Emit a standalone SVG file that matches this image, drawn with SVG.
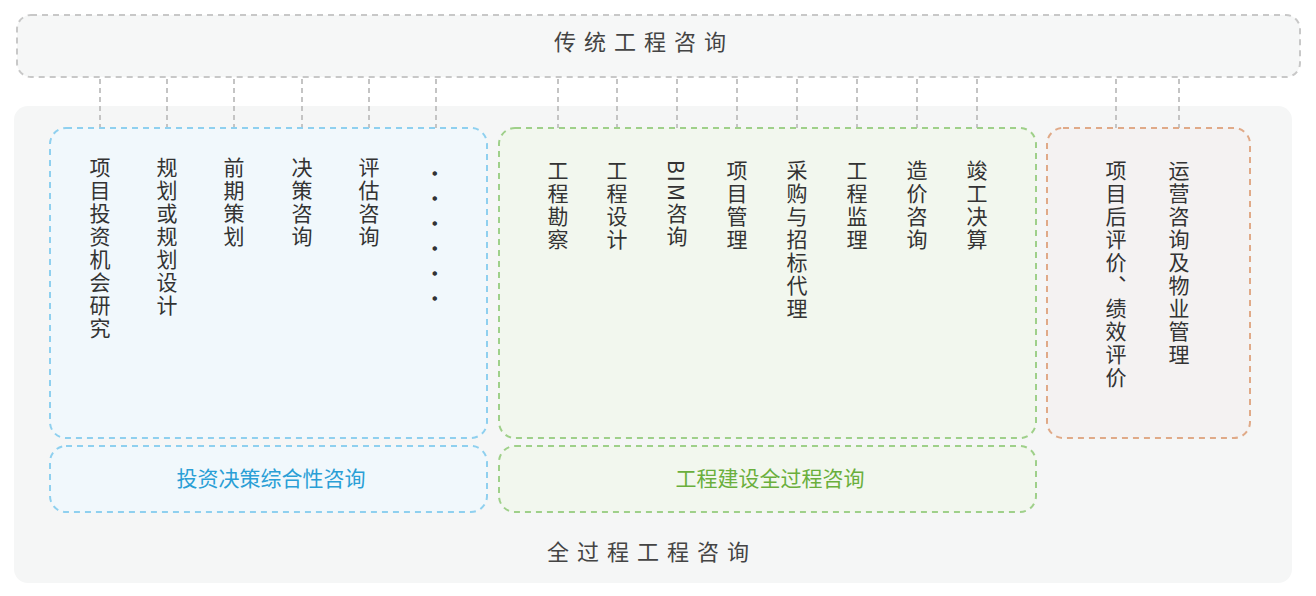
<svg xmlns="http://www.w3.org/2000/svg" width="1316" height="596" viewBox="0 0 1316 596">
<style>
.v{font-family:"Noto Sans CJK SC","Noto Sans",sans-serif;font-size:21px;fill:#333;writing-mode:tb;letter-spacing:2px}
.h{font-family:"Noto Sans CJK SC","Noto Sans",sans-serif;font-size:22px;fill:#444;text-anchor:middle;letter-spacing:8px}
.c{stroke:#c4c4c4;stroke-width:2;stroke-dasharray:5 4;fill:none}
.lb{font-family:"Noto Sans CJK SC","Noto Sans",sans-serif;font-size:21px;text-anchor:middle}
</style>
<rect x="0" y="0" width="1316" height="596" fill="#fff"/>
<g id="bg"><rect x="14" y="106" width="1278" height="477" rx="14" fill="#f5f6f6"/></g>
<g id="top"><rect x="17" y="15" width="1283" height="62" rx="14" fill="#f6f7f7" stroke="#c8c8c8" stroke-width="2" stroke-dasharray="6 5"/>
<text class="h" x="644" y="50">传统工程咨询</text></g>
<g id="connectors">
<path class="c" d="M100 79V128M167 79V128M234 79V128M302 79V128M369 79V128M436 79V128M558 79V128M617 79V128M677 79V128M737 79V128M797 79V128M857 79V128M917 79V128M977 79V128M1116 79V128M1179 79V128"/>
</g>
<g id="invest"><rect x="50" y="128" width="437" height="310" rx="16" fill="#f1f8fc" stroke="#8fd0ef" stroke-width="2" stroke-dasharray="6 5"/>
<text class="v" x="100" y="157">项目投资机会研究</text>
<text class="v" x="167" y="157">规划或规划设计</text>
<text class="v" x="234" y="157">前期策划</text>
<text class="v" x="302" y="157">决策咨询</text>
<text class="v" x="369" y="157">评估咨询</text>
<text class="v" x="436" y="163" style="letter-spacing:4px">······</text>
</g>
<g id="investLabel"><rect x="50" y="446" width="437" height="66" rx="16" fill="#f1f8fc" stroke="#8fd0ef" stroke-width="2" stroke-dasharray="6 5"/>
<text class="lb" x="271" y="486" fill="#2a9fd6">投资决策综合性咨询</text></g>
<g id="build"><rect x="499" y="128" width="537" height="310" rx="16" fill="#f2f7ee" stroke="#9fd08a" stroke-width="2" stroke-dasharray="6 5"/>
<text class="v" x="558" y="160">工程勘察</text>
<text class="v" x="617" y="160">工程设计</text>
<text class="v" x="677" y="160">BIM咨询</text>
<text class="v" x="737" y="160">项目管理</text>
<text class="v" x="797" y="160">采购与招标代理</text>
<text class="v" x="857" y="160">工程监理</text>
<text class="v" x="917" y="160">造价咨询</text>
<text class="v" x="977" y="160">竣工决算</text>
</g>
<g id="buildLabel"><rect x="499" y="446" width="537" height="66" rx="16" fill="#f2f7ee" stroke="#9fd08a" stroke-width="2" stroke-dasharray="6 5"/>
<text class="lb" x="770" y="486" fill="#6aaf3c">工程建设全过程咨询</text></g>
<g id="ops"><rect x="1047" y="128" width="203" height="310" rx="16" fill="#f4f2f2" stroke="#e0aa88" stroke-width="2" stroke-dasharray="6 5"/>
<text class="v" x="1116" y="160">项目后评价、绩效评价</text>
<text class="v" x="1179" y="160">运营咨询及物业管理</text>
</g>
<g id="bottom"><text class="h" x="652" y="560">全过程工程咨询</text></g>
</svg>
